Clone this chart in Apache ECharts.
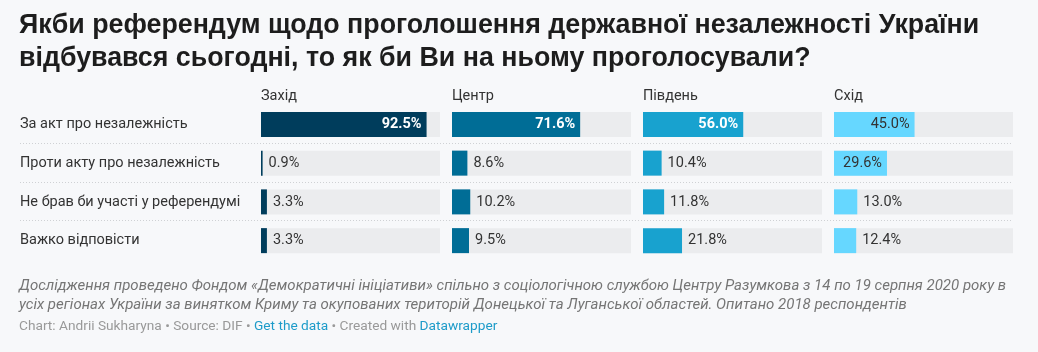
<!DOCTYPE html>
<html>
<head>
<meta charset="utf-8">
<script src="https://cdn.jsdelivr.net/npm/echarts@6/dist/echarts.min.js"></script>
<style>
  html, body { margin: 0; padding: 0; background: #f7f8fa; }
  #chart { width: 1038px; height: 352px; }
</style>
</head>
<body>
<div id="chart"></div>
<script>
var answers = ['За акт про незалежність', 'Проти акту про незалежність', 'Не брав би участі у референдумі', 'Важко відповісти'];
var regions = ['Захід', 'Центр', 'Південь', 'Схід'];
var zahid = [92.5, 0.9, 3.3, 3.3];
var tsentr = [71.6, 8.6, 10.2, 9.5];
var pivden = [56.0, 10.4, 11.8, 21.8];
var skhid = [45.0, 29.6, 13.0, 12.4];
var regionValues = [zahid, tsentr, pivden, skhid];
var colors = ['#003d5c', '#006d96', '#18a2cf', '#66d7ff'];
var labelInside = ['#ffffff', '#ffffff', '#ffffff', '#333333'];

var chart = echarts.init(document.getElementById('chart'));

var font = 'Roboto, "Noto Sans", sans-serif';
var colLeft = [261, 452, 643, 834];
var colWidth = 179;
var gridTop = 105;
var gridHeight = 155;

var grids = [], xAxes = [], yAxes = [], series = [], titles = [];

titles.push({
    text: 'Якби референдум щодо проголошення державної незалежності України\nвідбувався сьогодні, то як би Ви на ньому проголосували?',
    left: 19, top: 9, padding: 0,
    textStyle: { fontFamily: '"Liberation Sans", Arial, sans-serif', fontSize: 26.8, fontWeight: 'bold', color: '#1d1d1d', lineHeight: 33 }
});

regions.forEach(function (name, i) {
    grids.push({ left: colLeft[i], top: gridTop, width: colWidth, height: gridHeight });
    xAxes.push({ type: 'value', gridIndex: i, min: 0, max: 100, show: false });
    yAxes.push({
        type: 'category', gridIndex: i, data: answers, inverse: true,
        axisLine: { show: false }, axisTick: { show: false }, splitLine: { show: false },
        axisLabel: i === 0 ? {
            show: true, align: 'left', margin: colLeft[0] - 20,
            fontFamily: font, fontSize: 14.5, color: '#333'
        } : { show: false }
    });
    titles.push({
        text: name, left: colLeft[i], top: 89, padding: 0,
        textStyle: { fontFamily: font, fontSize: 14.5, fontWeight: 'normal', color: '#333' }
    });
    series.push({
        type: 'bar', xAxisIndex: i, yAxisIndex: i, barWidth: 25,
        showBackground: true, backgroundStyle: { color: '#ebecee' },
        itemStyle: { color: colors[i] },
        data: regionValues[i].map(function (v) {
            var inside = v >= 25;
            return {
                value: v,
                label: {
                    show: true,
                    position: inside ? 'insideRight' : 'right',
                    distance: inside ? 5 : 6,
                    color: inside ? labelInside[i] : '#333',
                    fontWeight: inside && labelInside[i] === '#ffffff' ? 'bold' : 'normal',
                    fontFamily: font, fontSize: 14.5,
                    formatter: function (p) { return p.value.toFixed(1) + '%'; }
                }
            };
        })
    });
});

// dotted row separators
var graphics = [];
var pitch = gridHeight / answers.length;
for (var r = 1; r < answers.length; r++) {
    var y = Math.round(gridTop + pitch * r) - 0.5;
    graphics.push({
        type: 'line',
        shape: { x1: 20, y1: y, x2: colLeft[3] + colWidth, y2: y },
        style: { stroke: '#cfd1d4', lineWidth: 1, lineDash: [1, 2] }
    });
}

graphics.push({
    type: 'text', left: 19, top: 277,
    style: {
        text: 'Дослідження проведено Фондом «Демократичні ініціативи» спільно з соціологічною службою Центру Разумкова з 14 по 19 серпня 2020 року в\nусіх регіонах України за винятком Криму та окупованих територій Донецької та Луганської областей. Опитано 2018 респондентів',
        font: 'italic 15px ' + font, fill: '#757575', lineHeight: 19
    }
});
graphics.push({
    type: 'text', left: 19, top: 320,
    style: {
        text: '{g|Chart: Andrii Sukharyna • Source: DIF • }{l|Get the data}{g| • Created with }{l|Datawrapper}',
        rich: {
            g: { fontFamily: font, fontSize: 13.7, fill: '#999' },
            l: { fontFamily: font, fontSize: 13.7, fill: '#1d9bc9' }
        }
    }
});

chart.setOption({
    backgroundColor: '#f7f8fa',
    animation: false,
    title: titles,
    grid: grids,
    xAxis: xAxes,
    yAxis: yAxes,
    series: series,
    graphic: graphics
});
window.addEventListener('resize', chart.resize);
</script>
</body>
</html>
